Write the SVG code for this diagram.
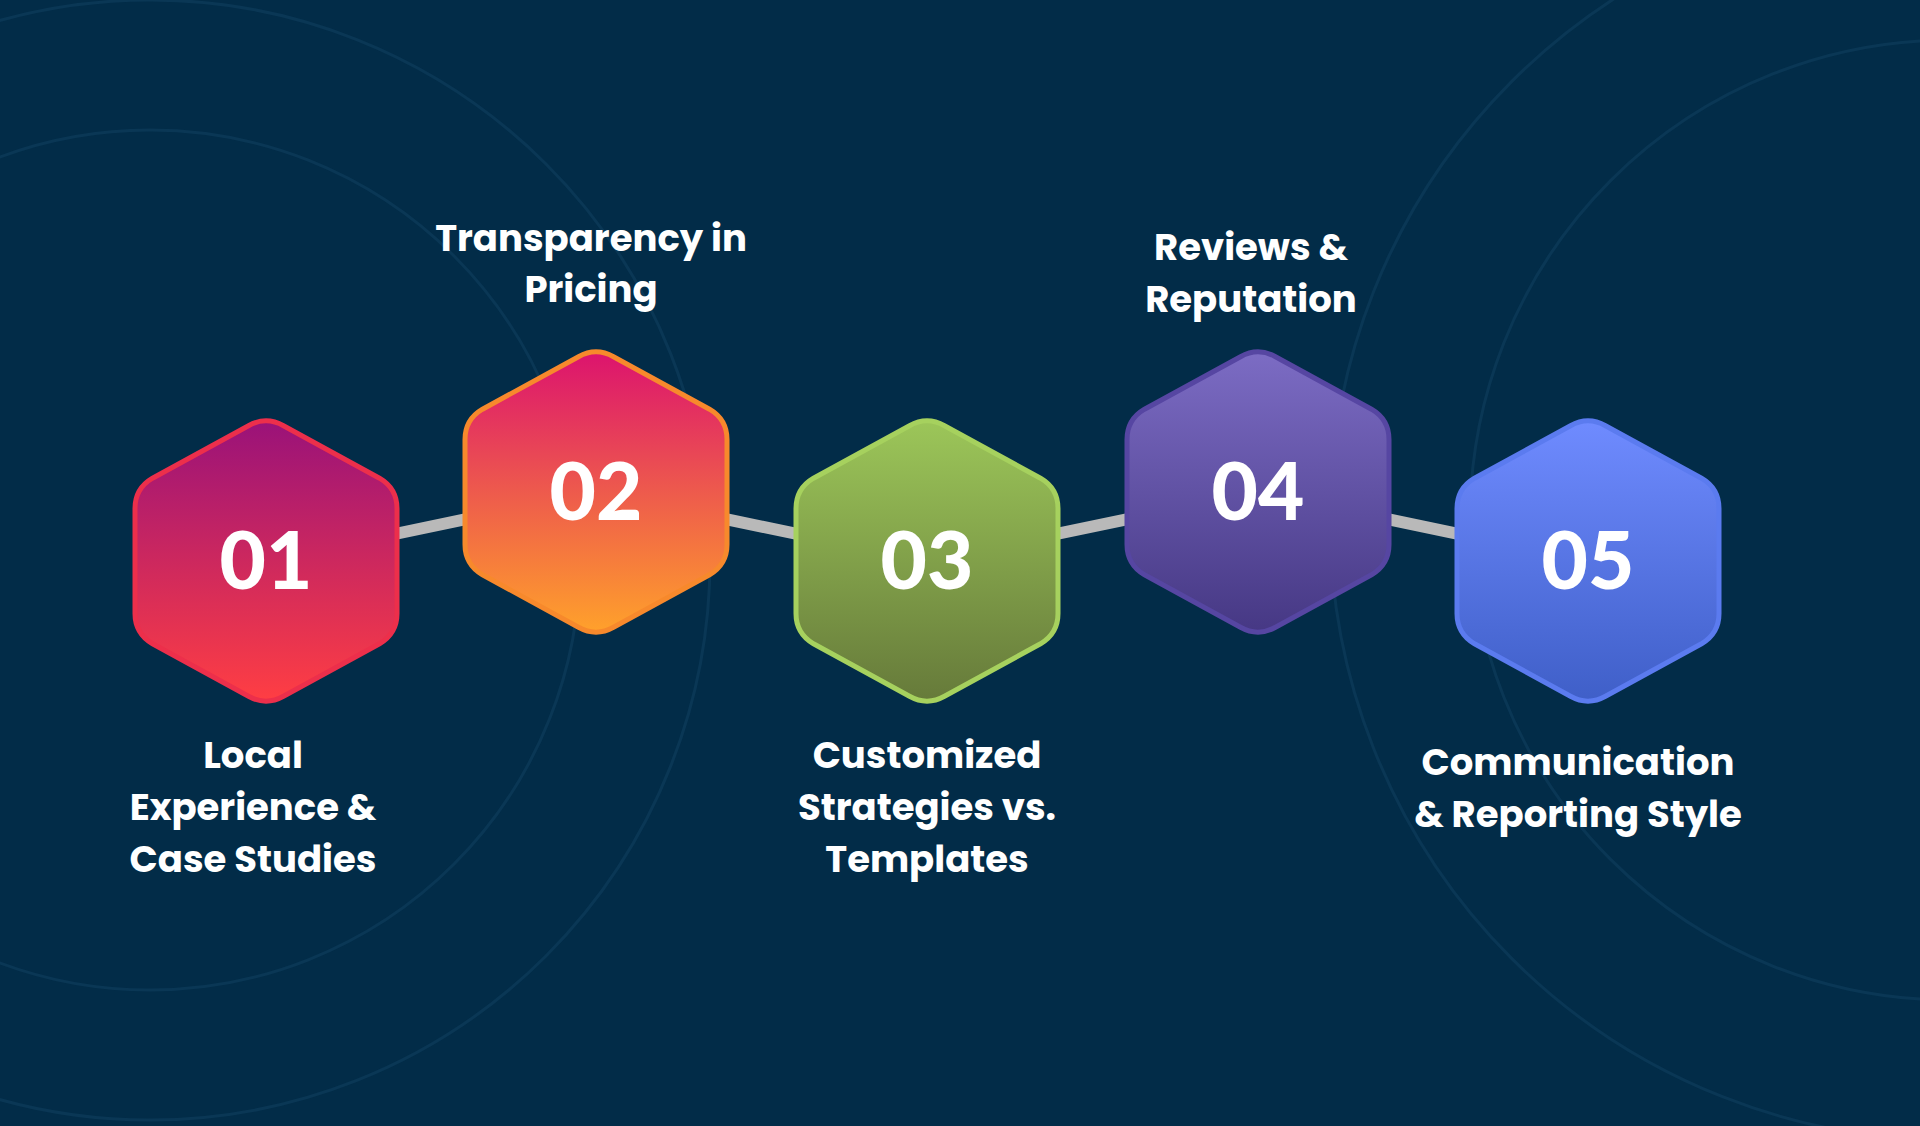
<svg xmlns="http://www.w3.org/2000/svg" width="1920" height="1126" viewBox="0 0 1920 1126">
<defs>
<path id="hex" d="M17.5,-135.3 L113.5,-82.8 Q131,-72.5 131,-52.5 L131,52.5 Q131,72.5 113.5,82.8 L17.5,135.3 Q0,145 -17.5,135.3 L-113.5,82.8 Q-131,72.5 -131,52.5 L-131,-52.5 Q-131,-72.5 -113.5,-82.8 L-17.5,-135.3 Q0,-145 17.5,-135.3 Z"/>
<linearGradient id="g1" x1="0" y1="0" x2="0" y2="1"><stop offset="0" stop-color="#9a1279"/><stop offset="1" stop-color="#ff3e43"/></linearGradient>
<linearGradient id="g2" x1="0" y1="0" x2="0" y2="1"><stop offset="0" stop-color="#dc136e"/><stop offset="1" stop-color="#ffa12b"/></linearGradient>
<linearGradient id="g3" x1="0" y1="0" x2="0" y2="1"><stop offset="0" stop-color="#9cc659"/><stop offset="1" stop-color="#667a3a"/></linearGradient>
<linearGradient id="g4" x1="0" y1="0" x2="0" y2="1"><stop offset="0" stop-color="#7c6cc4"/><stop offset="1" stop-color="#463884"/></linearGradient>
<linearGradient id="g5" x1="0" y1="0" x2="0" y2="1"><stop offset="0" stop-color="#6f8bff"/><stop offset="1" stop-color="#3f5fc8"/></linearGradient>
</defs>
<style>
.lbl{font-family:"Poppins","Lato","Noto Sans",sans-serif;font-weight:700;font-size:37px;fill:#fff;text-anchor:middle}
.num{font-family:"Lato","Noto Sans",sans-serif;font-weight:900;font-size:80px;fill:#fff;text-anchor:middle}
.arc{fill:none;stroke:#0a3755;stroke-width:3}
</style>
<rect width="1920" height="1126" fill="#022c48"/>
<g id="bg">
<circle class="arc" cx="150" cy="560" r="560"/>
<circle class="arc" cx="150" cy="560" r="430"/>
<circle class="arc" cx="1950" cy="520" r="620"/>
<circle class="arc" cx="1950" cy="520" r="480"/>
</g>
<g id="connectors" stroke="#b9b9b9" stroke-width="12" stroke-linecap="round">
<line x1="266" y1="561" x2="596" y2="492"/>
<line x1="596" y1="492" x2="927" y2="561"/>
<line x1="927" y1="561" x2="1258" y2="492"/>
<line x1="1258" y1="492" x2="1588" y2="561"/>
</g>
<g id="n1"><use href="#hex" transform="translate(266,561)" fill="url(#g1)" stroke="#ec2f4b" stroke-width="5"/><text class="num" x="266" y="589">01</text>
<text class="lbl" x="253" y="768">Local</text><text class="lbl" x="253" y="820">Experience &amp;</text><text class="lbl" x="253" y="872">Case Studies</text></g>
<g id="n2"><use href="#hex" transform="translate(596,492)" fill="url(#g2)" stroke="#f7892c" stroke-width="5"/><text class="num" x="596" y="520">02</text>
<text class="lbl" x="591" y="251">Transparency in</text><text class="lbl" x="591" y="302">Pricing</text></g>
<g id="n3"><use href="#hex" transform="translate(927,561)" fill="url(#g3)" stroke="#a6d15e" stroke-width="5"/><text class="num" x="927" y="589">03</text>
<text class="lbl" x="927" y="768">Customized</text><text class="lbl" x="927" y="820">Strategies vs.</text><text class="lbl" x="927" y="872">Templates</text></g>
<g id="n4"><use href="#hex" transform="translate(1258,492)" fill="url(#g4)" stroke="#5646a2" stroke-width="5"/><text class="num" x="1258" y="520">04</text>
<text class="lbl" x="1251" y="260">Reviews &amp;</text><text class="lbl" x="1251" y="312">Reputation</text></g>
<g id="n5"><use href="#hex" transform="translate(1588,561)" fill="url(#g5)" stroke="#5b7bef" stroke-width="5"/><text class="num" x="1588" y="589">05</text>
<text class="lbl" x="1578" y="775">Communication</text><text class="lbl" x="1578" y="827">&amp; Reporting Style</text></g>
</svg>
